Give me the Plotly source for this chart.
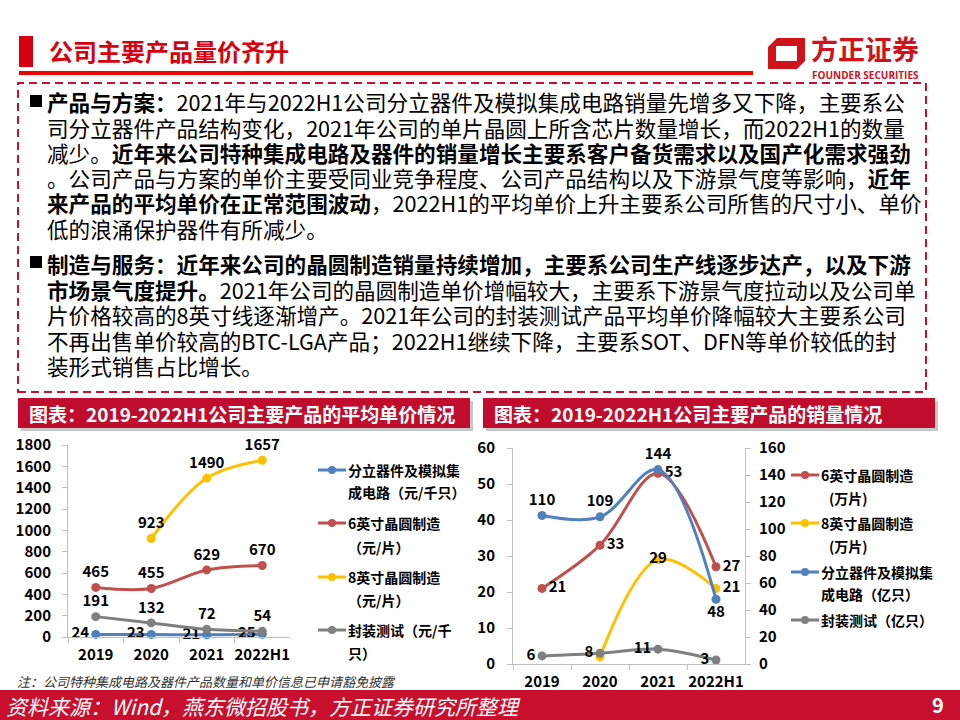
import plotly.graph_objects as go

W, H = 960, 720
def px(x): return x / W
def py(y): return 1 - y / H

FONT = "Noto Sans CJK SC"

# ---------------- data ----------------
years = ["2019", "2020", "2021", "2022H1"]

# left chart: average unit price
price_discrete = [24, 23, 21, 25]       # 分立器件及模拟集成电路（元/千只）
price_6inch = [465, 455, 629, 670]      # 6英寸晶圆制造（元/片）
price_8inch = [None, 923, 1490, 1657]   # 8英寸晶圆制造（元/片）
price_package = [191, 132, 72, 54]      # 封装测试（元/千只）

# right chart: sales volume
vol_6inch = [21, 33, 53, 27]            # 6英寸晶圆制造（万片）  left axis
vol_8inch = [None, 2, 29, 21]           # 8英寸晶圆制造（万片）  left axis
vol_discrete = [110, 109, 144, 48]      # 分立器件及模拟集成电路（亿只） right axis
vol_package = [6, 8, 11, 3]             # 封装测试（亿只） right axis

left_ticks = list(range(0, 1801, 200))
vol_left_ticks = list(range(0, 61, 10))
vol_right_ticks = list(range(0, 161, 20))

BLUE, RED, YELLOW, GREY = "#4F81BD", "#C0504D", "#FFC000", "#7F7F7F"
AXIS = "#BFBFBF"
CRIMSON = "#C00D2D"


def lbl(vals, skip=()):
    return ["" if (v is None or i in skip) else str(v) for i, v in enumerate(vals)]


def series(y, color, xa, ya, pos, skip=()):
    return go.Scatter(
        x=years, y=y, xaxis=xa, yaxis=ya,
        mode="lines+markers+text", text=lbl(y, skip), textposition=pos,
        textfont=dict(family=FONT, size=15, color="black", weight="bold"),
        line=dict(color=color, width=3, shape="spline", smoothing=1.0),
        marker=dict(color=color, size=9), cliponaxis=False,
        showlegend=False, hoverinfo="skip")


fig = go.Figure()
# left chart
fig.add_trace(series(price_discrete, BLUE, "x", "y", "middle left"))
fig.add_trace(series(price_6inch, RED, "x", "y", "top center"))
fig.add_trace(series(price_8inch, YELLOW, "x", "y", "top center"))
fig.add_trace(series(price_package, GREY, "x", "y", "top center"))
# right chart
fig.add_trace(series(vol_6inch, RED, "x2", "y2", "middle right"))
fig.add_trace(series(vol_8inch, YELLOW, "x2", "y2",
                     ["middle right", "middle center", "middle center", "middle right"], skip=(1,)))
fig.add_trace(series(vol_discrete, BLUE, "x2", "y3",
                     ["top center", "top center", "top center", "bottom center"]))
fig.add_trace(series(vol_package, GREY, "x2", "y3", "middle left"))

tickfont = dict(family=FONT, size=15, color="black", weight="bold")
common = dict(automargin=False, showgrid=False, showline=True, linecolor=AXIS,
              linewidth=1, ticks="outside", ticklen=5, tickcolor=AXIS, tickfont=tickfont)

fig.update_layout(
    width=W, height=H, autosize=False,
    margin=dict(l=0, r=0, t=0, b=0, pad=0, autoexpand=False),
    paper_bgcolor="white", plot_bgcolor="white",
    showlegend=False,
    xaxis=dict(domain=[px(68), px(290)], type="category", range=[-0.5, 3.5],
               tickson="boundaries", tickangle=0, anchor="y", ticklabelstandoff=4, **common),
    yaxis=dict(domain=[py(637), py(445)], range=[0, 1800], tickvals=left_ticks,
               zeroline=False, anchor="x", ticklabelstandoff=8, **common),
    xaxis2=dict(domain=[px(513), px(745)], type="category", range=[-0.5, 3.5],
                tickson="boundaries", tickangle=0, anchor="y2", ticklabelstandoff=4, **common),
    yaxis2=dict(domain=[py(664), py(448)], range=[0, 60], tickvals=vol_left_ticks,
                zeroline=False, anchor="x2", ticklabelstandoff=9, **common),
    yaxis3=dict(range=[0, 160], tickvals=vol_right_ticks, overlaying="y2", side="right",
                anchor="x2", zeroline=False, ticklabelstandoff=5, **common),
)

shapes = []
ann = []


def rect(x0, y0, x1, y1, fill, line=None, lw=0, dash=None, opacity=1.0):
    d = dict(type="rect", xref="paper", yref="paper", x0=px(x0), x1=px(x1),
             y0=py(y1), y1=py(y0), fillcolor=fill, opacity=opacity,
             line=dict(width=lw, color=line or fill))
    if dash:
        d["line"]["dash"] = dash
    shapes.append(d)


def text(x, y, s, size, color="black", weight="normal", xanchor="left",
         style="normal", family=FONT):
    ann.append(dict(x=px(x), y=py(y), xref="paper", yref="paper", text=s,
                    showarrow=False, xanchor=xanchor, yanchor="middle", borderpad=0,
                    font=dict(family=family, size=size, color=color,
                              weight=weight, style=style)))


# ---------------- header ----------------
rect(19, 36, 33, 67, "#D7000F")
text(48, 51, "<b>公司主要产品量价齐升</b>", 24, color="#D7000F")
rect(19, 71, 753, 75, "#F00000")

# logo
shapes.append(dict(type="path", xref="paper", yref="paper",
                   path="M {} {} L {} {} L {} {} L {} {} L {} {} L {} {} Z".format(
                       px(768), py(47), px(777), py(38), px(805), py(38),
                       px(805), py(61), px(797), py(69), px(768), py(69)),
                   fillcolor="#D0121B", line=dict(width=0)))
rect(776, 46, 797, 61, "white")
text(810, 49, "<b>方正证券</b>", 27, color="#D0121B")
text(811, 75, "<b>FOUNDER SECURITIES</b>", 10, color="#D0121B", family="Open Sans")

# ---------------- text box ----------------
rect(18, 83, 926, 392, "rgba(0,0,0,0)", line="#C8102E", lw=2, dash="8px,5px")

TX = 46
FS = 21.6
para1 = [
    "<b>产品与方案：</b>2021年与2022H1公司分立器件及模拟集成电路销量先增多又下降，主要系公",
    "司分立器件产品结构变化，2021年公司的单片晶圆上所含芯片数量增长，而2022H1的数量",
    "减少。<b>近年来公司特种集成电路及器件的销量增长主要系客户备货需求以及国产化需求强劲</b>",
    "。公司产品与方案的单价主要受同业竞争程度、公司产品结构以及下游景气度等影响，<b>近年</b>",
    "<b>来产品的平均单价在正常范围波动</b>，2022H1的平均单价上升主要系公司所售的尺寸小、单价",
    "低的浪涌保护器件有所减少。",
]
para2 = [
    "<b>制造与服务：近年来公司的晶圆制造销量持续增加，主要系公司生产线逐步达产，以及下游</b>",
    "<b>市场景气度提升。</b>2021年公司的晶圆制造单价增幅较大，主要系下游景气度拉动以及公司单",
    "片价格较高的8英寸线逐渐增产。2021年公司的封装测试产品平均单价降幅较大主要系公司",
    "不再出售单价较高的BTC-LGA产品；2022H1继续下降，主要系SOT、DFN等单价较低的封",
    "装形式销售占比增长。",
]
ys1 = [102, 127, 152, 177, 202, 228]
ys2 = [263, 289, 314, 340, 365]
for s, y in zip(para1, ys1):
    text(TX, y, s, FS)
for s, y in zip(para2, ys2):
    text(TX, y, s, FS)
rect(30, 95, 42, 107, "black")
rect(30, 256, 42, 268, "black")

# ---------------- chart title bars ----------------
for x0, x1, s, tx in [(18, 470, "图表：2019-2022H1公司主要产品的平均单价情况", 28),
                      (483, 935, "图表：2019-2022H1公司主要产品的销量情况", 493)]:
    rect(x0 + 3, 401, x1 + 3, 431, "#9A9A9A", opacity=0.55)
    rect(x0, 398, x1, 428, CRIMSON)
    text(tx, 413, "<b>" + s + "</b>", 19, color="white")

# ---------------- legends ----------------
def legend_item(x, y, color):
    shapes.append(dict(type="line", xref="paper", yref="paper", x0=px(x), x1=px(x + 28),
                       y0=py(y), y1=py(y), line=dict(color=color, width=3)))
    shapes.append(dict(type="circle", xref="paper", yref="paper",
                       x0=px(x + 10), x1=px(x + 18), y0=py(y + 4), y1=py(y - 4),
                       fillcolor=color, line=dict(width=0)))

LF = 14
legend_item(318, 470, BLUE)
text(347, 470, "<b>分立器件及模拟集</b>", LF)
text(347, 492, "<b>成电路（元/千只）</b>", LF)
legend_item(318, 523, RED)
text(347, 523, "<b>6英寸晶圆制造</b>", LF)
text(347, 547, "<b>（元/片）</b>", LF)
legend_item(318, 577, YELLOW)
text(347, 577, "<b>8英寸晶圆制造</b>", LF)
text(347, 600, "<b>（元/片）</b>", LF)
legend_item(318, 630, GREY)
text(347, 630, "<b>封装测试（元/千</b>", LF)
text(347, 653, "<b>只）</b>", LF)

legend_item(791, 475, RED)
text(820, 475, "<b>6英寸晶圆制造</b>", LF)
text(828, 498, "<b>(万片)</b>", LF)
legend_item(791, 523, YELLOW)
text(820, 523, "<b>8英寸晶圆制造</b>", LF)
text(828, 546, "<b>(万片)</b>", LF)
legend_item(791, 572, BLUE)
text(820, 572, "<b>分立器件及模拟集</b>", LF)
text(820, 594, "<b>成电路（亿只）</b>", LF)
legend_item(791, 620, GREY)
text(820, 620, "<b>封装测试（亿只）</b>", LF)

# callout label for 8英寸 2020 volume
ann.append(dict(x=years[1], y=vol_8inch[1], xref="x2", yref="y2",
                text="<b>%s</b>" % vol_8inch[1], showarrow=True, arrowhead=0,
                arrowwidth=1, arrowcolor="#A6A6A6", ax=-9, ay=-26, standoff=3,
                font=dict(family=FONT, size=15, color="black")))

# ---------------- footnote & footer ----------------
text(16, 681, "注：公司特种集成电路及器件产品数量和单价信息已申请豁免披露", 13,
     color="#333333", style="italic")
rect(0, 690, 960, 720, "#C8102E")
text(5, 706, "资料来源：Wind，燕东微招股书，方正证券研究所整理", 21, color="white",
     style="italic")
text(938, 704, "<b>9</b>", 20, color="white", xanchor="center")

fig.update_layout(shapes=shapes, annotations=ann)
fig.write_html("out.html", config={"displayModeBar": False},
               post_script="document.body.style.margin='0';"
                           "document.body.style.overflow='hidden';")
